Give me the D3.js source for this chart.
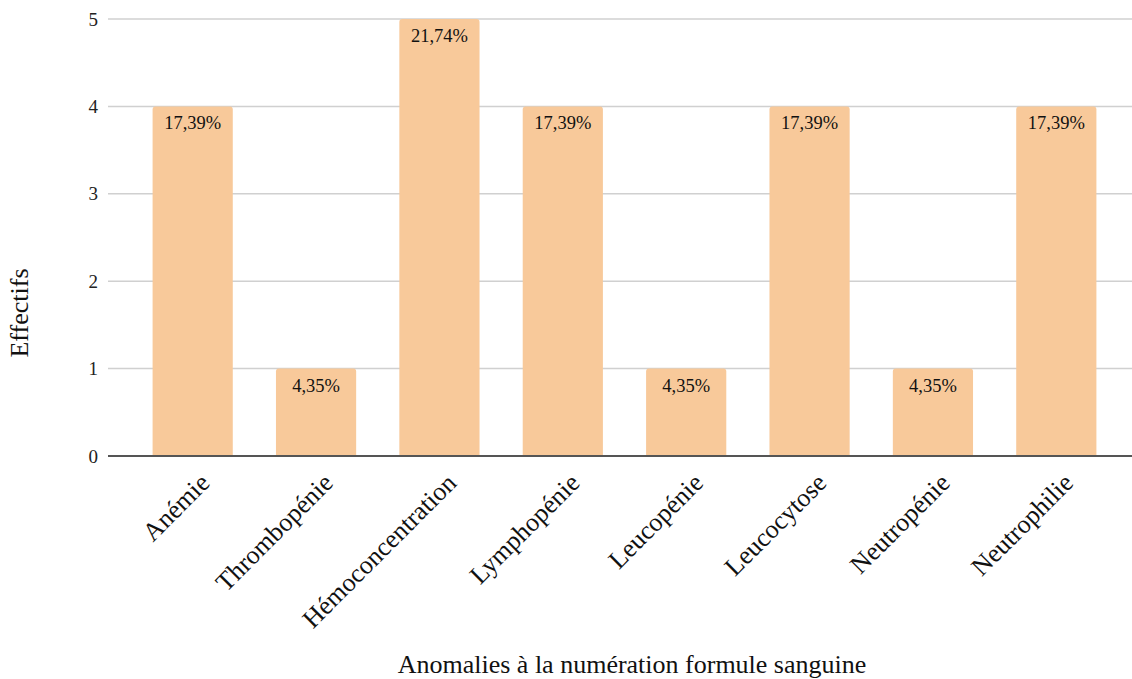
<!DOCTYPE html>
<html>
<head>
<meta charset="utf-8">
<script src="https://cdn.jsdelivr.net/npm/d3@7"></script>
<style>
  html, body { margin: 0; padding: 0; background: #fff; }
  svg { display: block; font-family: "Liberation Serif", "Times New Roman", serif; }
</style>
</head>
<body>
<svg id="chart" width="1132" height="679"></svg>
<script>
// Anomalies observed on the blood count (NFS)
const categories = ["Anémie", "Thrombopénie", "Hémoconcentration", "Lymphopénie",
                    "Leucopénie", "Leucocytose", "Neutropénie", "Neutrophilie"];
const counts = [4, 1, 5, 4, 1, 4, 1, 4];
const percentLabels = ["17,39%", "4,35%", "21,74%", "17,39%", "4,35%", "17,39%", "4,35%", "17,39%"];
const yTicks = [0, 1, 2, 3, 4, 5];

const svg = d3.select("#chart");
const gridLeft = 108, gridRight = 1132;
const plotTop = 19, plotBottom = 456;

const x = d3.scaleBand()
  .domain(categories)
  .range([131, 1118])
  .paddingInner(0.35)
  .paddingOuter(0.175);

const y = d3.scaleLinear().domain([0, 5]).range([plotBottom, plotTop]);

// horizontal gridlines
svg.append("g")
  .selectAll("line")
  .data(yTicks.filter(d => d > 0))
  .join("line")
  .attr("x1", gridLeft).attr("x2", gridRight)
  .attr("y1", d => y(d)).attr("y2", d => y(d))
  .attr("stroke", "#d0d0d0")
  .attr("stroke-width", 1.5);

// y tick labels
svg.append("g")
  .selectAll("text")
  .data(yTicks)
  .join("text")
  .attr("x", 98)
  .attr("y", d => y(d))
  .attr("dy", "0.35em")
  .attr("text-anchor", "end")
  .attr("font-size", 19)
  .attr("fill", "#222")
  .text(d => d);

// bars with slightly rounded tops
const bw = x.bandwidth();
const r = 3;
svg.append("g")
  .selectAll("path")
  .data(categories)
  .join("path")
  .attr("fill", "#F8C99A")
  .attr("d", (c, i) => {
    const x0 = x(c), x1 = x0 + bw, y0 = y(counts[i]), y1 = y(0);
    return `M${x0},${y1}V${y0 + r}Q${x0},${y0} ${x0 + r},${y0}H${x1 - r}Q${x1},${y0} ${x1},${y0 + r}V${y1}Z`;
  });

// value labels inside bar tops
svg.append("g")
  .selectAll("text")
  .data(categories)
  .join("text")
  .attr("x", c => x(c) + bw / 2)
  .attr("y", (c, i) => y(counts[i]) + 23)
  .attr("text-anchor", "middle")
  .attr("font-size", 18.5)
  .attr("fill", "#111")
  .text((c, i) => percentLabels[i]);

// baseline
svg.append("line")
  .attr("x1", gridLeft).attr("x2", gridRight)
  .attr("y1", y(0)).attr("y2", y(0))
  .attr("stroke", "#555")
  .attr("stroke-width", 2);

// rotated category labels
svg.append("g")
  .selectAll("text")
  .data(categories)
  .join("text")
  .attr("transform", c => `translate(${x(c) + bw / 2 + 12},${plotBottom + 22}) rotate(-45)`)
  .attr("text-anchor", "end")
  .attr("dy", "0.35em")
  .attr("font-size", 26)
  .attr("fill", "#111")
  .text(c => c);

// axis titles
svg.append("text")
  .attr("x", 632)
  .attr("y", 673)
  .attr("text-anchor", "middle")
  .attr("font-size", 26)
  .attr("fill", "#111")
  .text("Anomalies à la numération formule sanguine");

svg.append("text")
  .attr("transform", "translate(28,313) rotate(-90)")
  .attr("text-anchor", "middle")
  .attr("font-size", 26)
  .attr("fill", "#111")
  .text("Effectifs");
</script>
</body>
</html>
